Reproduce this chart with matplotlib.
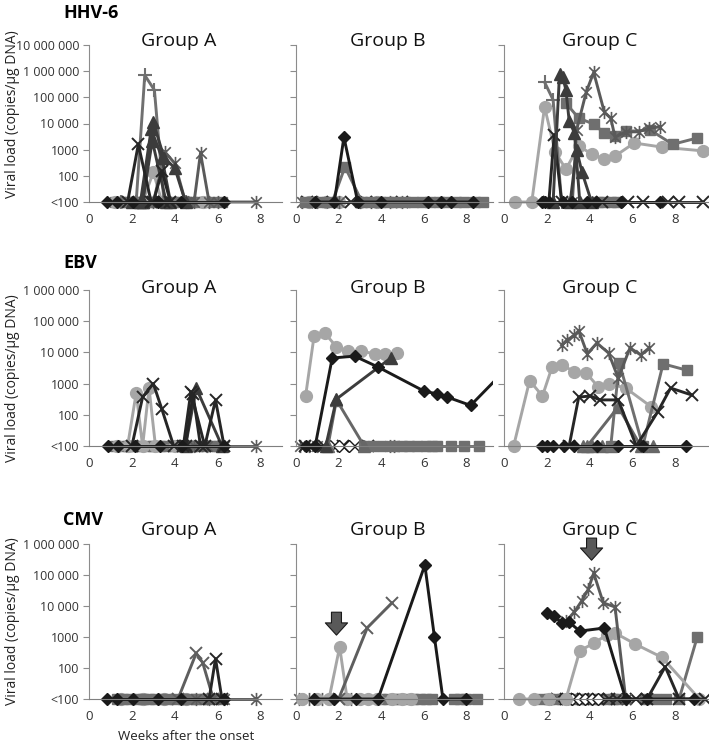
import matplotlib.pyplot as plt
from matplotlib.path import Path
from matplotlib.ticker import NullLocator
from matplotlib.transforms import Bbox, TransformedBbox

plt.rcParams['font.family'] = ['Open Sans', 'DejaVu Sans']

L = 10  # plotted level for "<100"

viruses = ['HHV-6', 'EBV', 'CMV']
groups = ['Group A', 'Group B', 'Group C']
x_max = [9.0, 9.25, 9.6]
y_top = [1e7, 1e6, 1e6]
y_ticks = [10, 100, 1000, 1e4, 1e5, 1e6, 1e7]
y_tick_labels = ['<100', '100', '1000', '10 000', '100 000', '1 000 000', '10 000 000']
x_ticks = [0, 2, 4, 6, 8]

# each series: (patient marker type, weeks, viral load)
hhv6_a = [
    ('sq', [1.2, 1.5, 1.8, 2.1, 2.4, 2.7, 3.0, 3.3, 3.6, 3.9, 4.2, 4.5, 4.8, 5.1, 5.4, 5.8, 6.2],
     [L, L, L, L, L, L, L, L, L, L, L, L, L, L, L, L, L]),
    ('circ', [1.2, 2.5, 3.0, 3.4, 4.5, 5.3], [L, L, 140, L, L, L]),
    ('star', [4.6, 4.9, 5.2, 5.6, 6.0, 7.8], [L, L, 750, L, L, L]),
    ('star', [3.0, 3.55, 4.0, 4.5], [L, 800, 300, L]),
    ('plus', [1.5, 2.2, 2.6, 3.05, 3.5, 4.5], [L, L, 7e5, 1.9e5, L, L]),
    ('tri', [2.0, 2.5, 3.0, 3.5, 4.0, 4.5], [L, L, 1.1e4, 500, 200, L]),
    ('tri', [2.4, 2.9, 3.4, 3.8], [L, 6000, 500, L]),
    ('tri', [2.5, 2.95, 3.6], [L, 2200, L]),
    ('x', [1.8, 2.3, 2.9, 3.5], [L, 1600, L, L]),
    ('x', [3.0, 3.4, 3.8], [L, 150, L]),
    ('dia', [0.85, 1.3, 2.05, 3.2, 4.3, 6.3], [L, L, L, L, L, L]),
]
hhv6_b = [
    ('circ', [0.6, 1.4, 2.0, 3.0, 3.8], [L, L, L, L, L]),
    ('star', [0.3, 1.0, 2.0, 3.0, 3.5, 4.4, 5.0], [L, L, L, L, L, L, L]),
    ('x', [0.5, 1.2, 2.6, 3.3, 5.0], [L, L, L, L, L]),
    ('sq', [0.4, 0.8, 1.2, 1.7, 2.3, 3.1, 3.5, 3.9, 4.3, 4.7, 5.1, 5.5, 5.9, 6.3, 6.7, 7.1, 7.5, 7.9, 8.4, 8.8],
     [L, L, L, L, 220, L, L, L, L, L, L, L, L, L, L, L, L, L, L, L]),
    ('dia', [0.9, 1.8, 2.25, 2.9, 4.0, 6.2, 6.8, 7.3, 8.3], [L, L, 3000, L, L, L, L, L, L]),
]
hhv6_c = [
    ('circ', [0.5, 1.3, 1.9, 2.4, 2.9, 3.5, 4.1, 4.7, 5.2, 6.1, 7.4, 9.3],
     [L, L, 43000, 800, 180, 1400, 680, 440, 570, 1800, 1250, 900]),
    ('plus', [1.9, 2.3, 2.7], [3.8e5, 8e4, L]),
    ('sq', [2.9, 3.5, 4.2, 4.7, 5.2, 5.7, 6.85, 7.9, 9.05],
     [6e4, 1.6e4, 9500, 4300, 3300, 5000, 5600, 1600, 2800]),
    ('sq', [4.4, 4.7, 5.0, 5.3], [L, L, L, L]),
    ('star', [3.2, 3.4, 3.85, 4.2, 4.7, 5.0, 5.2, 5.7, 6.3, 6.8, 7.3],
     [L, 5600, 1.6e5, 9e5, 2.7e4, 1.6e4, 3000, 4800, 4800, 6700, 7400]),
    ('x', [2.1, 2.35, 2.7], [L, 3600, L]),
    ('x', [4.6, 5.8, 6.5, 7.7, 8.2, 9.3], [L, L, L, L, L, L]),
    ('tri', [2.3, 2.6, 2.75, 2.9, 3.05, 3.3, 3.55], [L, 8e5, 6e5, 1.9e5, 1.3e4, 4300, L]),
    ('tri', [3.1, 3.4, 3.65, 4.1], [L, 1000, 140, L]),
    ('dia', [1.8, 1.9, 2.1, 2.75, 3.2, 3.9, 4.3, 5.5, 7.3], [L, L, L, L, L, L, L, L, L]),
]

ebv_a = [
    ('sq', [1.2, 1.5, 1.8, 2.1, 2.4, 2.7, 3.0, 3.3, 3.6, 3.9, 4.2, 4.5, 4.8, 5.1, 5.4, 5.7, 6.0],
     [L, L, L, L, L, L, L, L, L, L, L, L, L, L, L, L, L]),
    ('star', [4.9, 5.5, 6.3, 7.8], [L, L, L, L]),
    ('circ', [1.3, 1.8, 2.2, 2.5, 2.8, 3.1, 4.0], [L, L, 500, L, 720, L, L]),
    ('tri', [4.5, 5.0, 6.2], [L, 720, L]),
    ('x', [2.0, 2.5, 3.0, 3.4, 3.95], [L, 370, 1000, 150, L]),
    ('x', [4.4, 4.75, 5.4, 5.9, 6.3], [L, 540, L, 300, L]),
    ('x', [4.5, 4.85, 5.2], [L, 450, L]),
    ('dia', [0.9, 1.35, 2.15, 3.3, 4.35, 6.3], [L, L, L, L, L, L]),
]
ebv_b = [
    ('star', [0.2, 0.6, 1.0, 4.4, 4.6], [L, L, L, L, L]),
    ('x', [0.4, 1.3, 2.2, 3.4], [L, L, L, L]),
    ('hdia', [1.6, 2.0, 2.5, 3.0], [L, L, L, L]),
    ('sq', [3.2, 3.6, 4.1, 4.6, 5.0, 5.3, 5.7, 6.1, 6.4, 6.6, 7.3, 7.9, 8.6],
     [L, L, L, L, L, L, L, L, L, L, L, L, L]),
    ('circ', [0.45, 0.85, 1.35, 1.9, 2.45, 3.05, 3.7, 4.2, 4.75],
     [400, 34000, 42000, 15000, 11000, 11000, 9000, 9000, 9500]),
    ('trig', [1.5, 1.9, 3.2], [L, 300, L]),
    ('tri', [1.4, 1.9, 4.45], [L, 320, 6600]),
    ('dia', [0.45, 0.9, 1.7, 2.75, 3.85, 6.0, 6.6, 7.1, 8.2, 9.6],
     [L, L, 6600, 7600, 3400, 580, 470, 370, 200, 1900]),
]
ebv_c = [
    ('trig', [3.7, 4.1, 4.6, 5.0, 7.0], [L, L, L, L, L]),
    ('circ', [0.45, 1.2, 1.8, 2.25, 2.7, 3.3, 3.85, 4.4, 4.9, 5.7, 6.9],
     [L, 1250, 400, 3400, 4000, 2400, 2200, 800, 1000, 720, 180]),
    ('sq', [5.0, 5.4, 6.5, 7.45, 8.55], [L, 4600, L, 4300, 2700]),
    ('trig', [3.9, 5.35, 6.4], [L, 180, L]),
    ('star', [2.7, 2.95, 3.3, 3.5, 3.9, 4.35, 4.9, 5.35, 5.9, 6.4, 6.8],
     [17000, 25000, 35000, 50000, 9000, 20000, 9500, 1500, 14000, 8300, 14000]),
    ('x', [3.05, 3.5, 4.05, 4.5, 5.35, 6.2, 7.2, 7.8, 8.8], [L, 370, 400, 300, 300, L, 125, 720, 430]),
    ('dia', [1.8, 2.0, 2.3, 2.8, 3.3, 4.35, 5.35, 6.5, 8.5], [L, L, L, L, L, L, L, L, L]),
]

cmv_a = [
    ('circ', [1.5, 2.5, 3.5, 4.5], [L, L, L, L]),
    ('sq', [1.3, 1.6, 1.9, 2.2, 2.5, 2.8, 3.1, 3.4, 3.7, 4.0, 4.4, 4.7, 5.0, 5.3, 5.6, 6.0],
     [L, L, L, L, L, L, L, L, L, L, L, L, L, L, L, L]),
    ('star', [5.0, 5.6, 6.3, 7.8], [L, L, L, L]),
    ('xg', [4.15, 5.0, 5.3, 5.8], [L, 300, 150, L]),
    ('x', [5.6, 5.9, 6.2], [L, 200, L]),
    ('dia', [0.85, 1.3, 2.05, 3.2, 4.3, 6.3], [L, L, L, L, L, L]),
]
cmv_b = [
    ('star', [0.15, 0.6, 1.2, 2.6], [L, L, L, L]),
    ('sq', [4.0, 4.3, 4.6, 4.9, 5.2, 5.5, 5.8, 6.1, 6.4, 7.4, 7.7, 8.0, 8.5],
     [L, L, L, L, L, L, L, L, L, L, L, L, L]),
    ('circ', [0.3, 1.0, 1.55, 2.05, 2.4, 3.0, 3.4, 3.8, 4.5, 5.0, 5.4], [L, L, L, 480, L, L, L, L, L, L, L]),
    ('xg', [2.0, 3.35, 4.5], [L, 2000, 12500]),
    ('dia', [0.85, 1.8, 2.8, 3.85, 6.05, 6.5, 6.9, 8.0], [L, L, L, L, 2.1e5, 1000, L, L]),
]
cmv_c = [
    ('sq', [1.8, 2.1, 2.4, 2.7, 3.0, 3.3, 3.6, 3.9, 4.2, 4.5, 4.8, 5.1, 5.4, 6.6, 7.1, 7.6, 8.2, 9.05],
     [L, L, L, L, L, L, L, L, L, L, L, L, L, L, L, L, L, 1000]),
    ('x', [2.5, 2.9, 3.3, 3.7, 4.4, 4.9, 5.3, 6.2], [L, L, L, L, L, L, L, L]),
    ('hdia', [3.2, 3.5, 3.8, 4.1, 4.4], [L, L, L, L, L]),
    ('circ', [0.7, 1.4, 2.1, 2.9, 3.55, 4.2, 4.8, 5.2, 6.15, 7.4, 9.15],
     [L, L, L, L, 360, 630, 1150, 1350, 590, 220, L]),
    ('star', [2.9, 3.3, 3.65, 3.95, 4.2, 4.65, 5.2, 5.7], [3200, 6500, 15000, 35000, 1.15e5, 12600, 9300, L]),
    ('x', [6.7, 7.55, 8.2, 9.4], [L, 110, L, L]),
    ('dia', [2.0, 2.35, 2.7, 3.05, 3.55, 4.7, 5.7, 6.7, 8.9], [5900, 4800, 2800, 3000, 1550, 1950, L, L, L]),
]

# arrows (week, tail level, tip level)
cmv_b_arrow = (1.9, 6300, 1150)
cmv_c_arrow = (4.1, 1.55e6, 3e5)

panels = [[hhv6_a, hhv6_b, hhv6_c], [ebv_a, ebv_b, ebv_c], [cmv_a, cmv_b, cmv_c]]
arrows = {(2, 1): cmv_b_arrow, (2, 2): cmv_c_arrow}

star = Path([(-1, -1), (1, 1), (-1, 1), (1, -1), (0, -1.25), (0, 1.25)],
            [Path.MOVETO, Path.LINETO, Path.MOVETO, Path.LINETO, Path.MOVETO, Path.LINETO])

styles = {
    'dia': dict(color='#1a1a1a', marker='D', ms=6.3, mfc='#1a1a1a', mec='#1a1a1a', lw=2.1),
    'hdia': dict(color='#1a1a1a', marker='D', ms=6.3, mfc='white', mec='#1a1a1a', mew=1.0, lw=1.4),
    'sq': dict(color='#6f6f6f', marker='s', ms=7, lw=2.1),
    'tri': dict(color='#3c3c3c', marker='^', ms=8, lw=2.1),
    'trig': dict(color='#676767', marker='^', ms=8, lw=2.1),
    'x': dict(color='#262626', marker='x', ms=8, mew=1.4, lw=2.1),
    'xg': dict(color='#5e5e5e', marker='x', ms=8, mew=1.4, lw=2.1),
    'star': dict(color='#5a5a5a', marker=star, ms=9.5, mew=1.2, mfc='none', lw=2.1),
    'circ': dict(color='#a6a6a6', marker='o', ms=8.5, lw=2.1),
    'plus': dict(color='#707070', marker='+', ms=10, mew=1.5, lw=2.1),
}

W, H = 709, 748
col_left = [89, 296, 504]
col_width = [193, 197, 205]
row_top = [45, 290, 544]
row_bottom = [202, 446, 699]
title_y = [0.994, 0.98, 1.058]
row_label_y = [18, 268, 525]
ylabel_y = [114, 378, 621]

fig = plt.figure(figsize=(W / 100, H / 100), dpi=100)

for r in range(3):
    fig.text(63 / W, 1 - row_label_y[r] / H, viruses[r], fontsize=13, fontweight='bold',
             ha='left', va='baseline')
    fig.text(13 / W, 1 - ylabel_y[r] / H, 'Viral load (copies/μg DNA)', rotation=90,
             fontsize=10, ha='center', va='center', color='#222222')
    for c in range(3):
        ax = fig.add_axes([col_left[c] / W, 1 - row_bottom[r] / H,
                           col_width[c] / W, (row_bottom[r] - row_top[r]) / H])
        for kind, xs, ys in panels[r][c]:
            ln, = ax.plot(xs, ys, **styles[kind])
            ln.set_clip_box(TransformedBbox(Bbox([[-0.1, -0.1], [1.0, 1.1]]), ax.transAxes))
        ax.set_yscale('log')
        ax.set_ylim(10, y_top[r])
        ax.set_xlim(0, x_max[c])
        ticks = [t for t in y_ticks if t <= y_top[r]]
        ax.set_yticks(ticks)
        ax.yaxis.set_minor_locator(NullLocator())
        if c == 0:
            ax.set_yticklabels(y_tick_labels[:len(ticks)])
        else:
            ax.set_yticklabels([])
        ax.set_xticks(x_ticks)
        for s in ['top', 'right']:
            ax.spines[s].set_visible(False)
        ax.spines['left'].set_color('#8c8c8c')
        ax.spines['bottom'].set_color('#7f7f7f')
        ax.tick_params(axis='y', length=4, color='#8c8c8c', pad=3, labelsize=9, labelcolor='#333333')
        ax.tick_params(axis='x', length=0, pad=8, labelsize=9.5, labelcolor='#333333')
        ax.text(0.465, title_y[r], groups[c], transform=ax.transAxes, ha='center',
                va='baseline', fontsize=14, color='#111111')
        if (r, c) in arrows:
            ax_x, tail, tip = arrows[(r, c)]
            ax.annotate('', xy=(ax_x, tip), xytext=(ax_x, tail), annotation_clip=False,
                        arrowprops=dict(arrowstyle='simple,head_length=0.55,head_width=1.0,tail_width=0.45',
                                        mutation_scale=16, fc='#595959', ec='#1a1a1a', lw=0.8,
                                        shrinkA=0, shrinkB=0))

fig.text(118 / W, 1 - 740 / H, 'Weeks after the onset', fontsize=9.5, ha='left', va='baseline',
         color='#222222')

fig.savefig('out.png', dpi=100)
